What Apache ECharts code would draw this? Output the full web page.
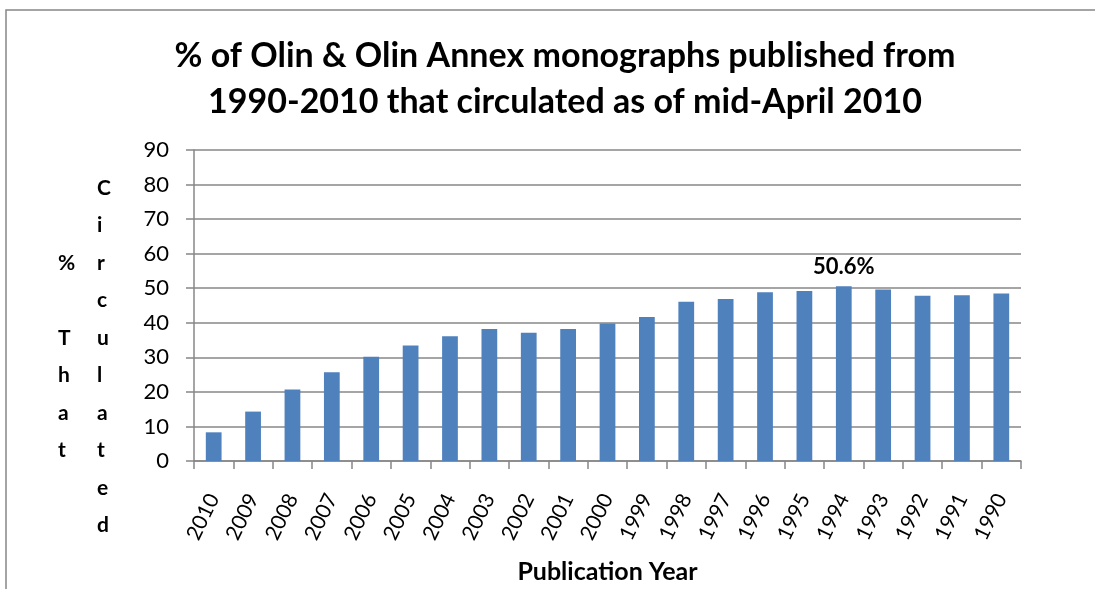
<!DOCTYPE html>
<html>
<head>
<meta charset="utf-8">
<script src="https://cdn.jsdelivr.net/npm/echarts@6/dist/echarts.min.js"></script>
<style>
  html, body { margin: 0; padding: 0; background: #fff; }
  #chart { width: 1095px; height: 589px; }
</style>
</head>
<body>
<div id="chart"></div>
<script>
  // data
  var years = ['2010', '2009', '2008', '2007', '2006', '2005', '2004', '2003', '2002', '2001', '2000',
    '1999', '1998', '1997', '1996', '1995', '1994', '1993', '1992', '1991', '1990'];
  var circulated = [8.3, 14.3, 20.7, 25.7, 30.2, 33.4, 36.1, 38.2, 37.1, 38.2, 39.8,
    41.7, 46.1, 46.9, 48.8, 49.2, 50.6, 49.6, 47.8, 48.0, 48.5];
  var labelledYear = '1994';
  var yTicks = [0, 10, 20, 30, 40, 50, 60, 70, 80, 90];

  var font = 'Lato, "Open Sans", sans-serif';
  var grey = '#878787';

  var chart = echarts.init(document.getElementById('chart'), null, { renderer: 'canvas' });

  var seriesData = circulated.map(function (v, i) {
    if (years[i] === labelledYear) {
      return {
        value: v,
        label: {
          show: true, position: 'top', distance: 8,
          formatter: function (p) { return p.value.toFixed(1) + '%'; },
          fontFamily: font, fontWeight: 'bold', fontSize: 22, color: '#000'
        }
      };
    }
    return v;
  });

  var option = {
    animation: false,
    backgroundColor: '#fff',
    title: {
      text: '% of Olin & Olin Annex monographs published from\n1990-2010 that circulated as of mid-April 2010',
      left: 560, top: 28, textAlign: 'center',
      textStyle: { fontFamily: font, fontWeight: 'bold', fontSize: 34, lineHeight: 46, color: '#000' }
    },
    graphic: [
      { type: 'rect', shape: { x: 6, y: 10, width: 1200, height: 700 }, style: { fill: 'none', stroke: grey, lineWidth: 1.5 }, silent: true },
      { type: 'text', left: 58, top: 244, style: { text: '%\n\nT\nh\na\nt', fontFamily: font, fontWeight: 'bold', fontSize: 21, lineHeight: 37.5, align: 'center', fill: '#000' } },
      { type: 'text', left: 97, top: 169, style: { text: 'C\ni\nr\nc\nu\nl\na\nt\ne\nd', fontFamily: font, fontWeight: 'bold', fontSize: 21, lineHeight: 37.5, align: 'center', fill: '#000' } }
    ],
    grid: { left: 194, right: 74, top: 150, bottom: 124 },
    xAxis: {
      type: 'category',
      data: years,
      name: 'Publication Year',
      nameLocation: 'middle',
      nameGap: 98,
      nameTextStyle: { fontFamily: font, fontWeight: 'bold', fontSize: 25, color: '#000' },
      axisLine: { lineStyle: { color: grey, width: 1.5 } },
      axisTick: { show: true, length: 8, lineStyle: { color: grey, width: 1.5 } },
      axisLabel: { rotate: 64, margin: 34, fontFamily: font, fontSize: 21, color: '#000', interval: 0 }
    },
    yAxis: {
      type: 'value',
      min: yTicks[0], max: yTicks[yTicks.length - 1], interval: 10,
      axisLine: { show: true, lineStyle: { color: grey, width: 1.5 } },
      axisTick: { show: true, length: 8, lineStyle: { color: grey, width: 1.5 } },
      axisLabel: { margin: 25, fontFamily: font, fontSize: 22, color: '#000' },
      splitLine: { lineStyle: { color: grey, width: 1.5 } }
    },
    series: [{
      type: 'bar',
      data: seriesData,
      barWidth: '40%',
      itemStyle: { color: '#4F81BD' }
    }]
  };

  chart.setOption(option);
</script>
</body>
</html>
